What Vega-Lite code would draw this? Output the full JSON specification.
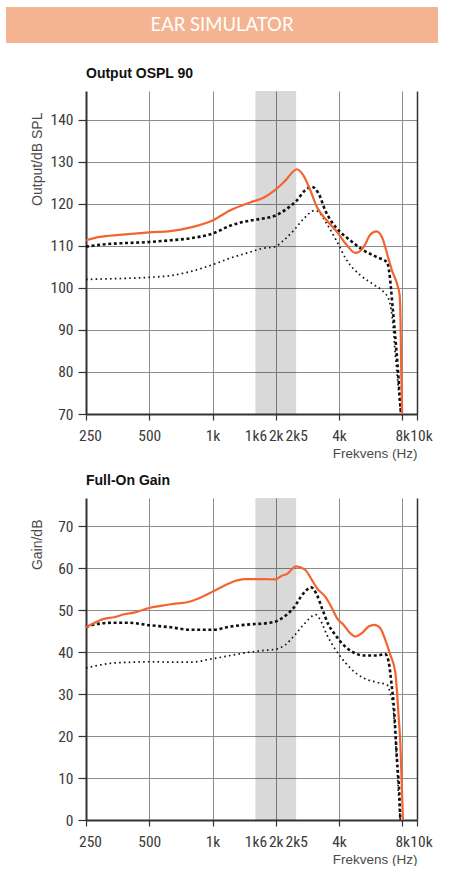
{
  "$schema": "https://vega.github.io/schema/vega-lite/v6.json",
  "padding": {"left": 6, "top": 7, "right": 0, "bottom": 0},
  "autosize": {"type": "pad"},
  "spacing": 24,
  "datasets": {
    "top": [
      {"s":"a","f":250,"v":111.3},{"s":"a","f":290,"v":112.1},{"s":"a","f":360,"v":112.6},{"s":"a","f":500,"v":113.2},{"s":"a","f":630,"v":113.5},{"s":"a","f":780,"v":114.3},{"s":"a","f":1000,"v":116.0},{"s":"a","f":1210,"v":118.4},{"s":"a","f":1510,"v":120.3},{"s":"a","f":1750,"v":121.4},{"s":"a","f":2000,"v":123.4},{"s":"a","f":2220,"v":125.5},{"s":"a","f":2520,"v":128.2},{"s":"a","f":2710,"v":126.7},{"s":"a","f":2920,"v":123.2},{"s":"a","f":3140,"v":119.2},{"s":"a","f":3500,"v":116.0},{"s":"a","f":3910,"v":113.3},{"s":"a","f":4360,"v":110.1},{"s":"a","f":4780,"v":108.3},{"s":"a","f":5240,"v":109.7},{"s":"a","f":5630,"v":112.6},{"s":"a","f":6020,"v":113.4},{"s":"a","f":6400,"v":112.1},{"s":"a","f":6880,"v":106.9},{"s":"a","f":7150,"v":104.1},{"s":"a","f":7600,"v":100.5},{"s":"a","f":7770,"v":98.2},{"s":"a","f":7850,"v":91.8},{"s":"a","f":7910,"v":80},{"s":"a","f":7990,"v":70},
      {"s":"b","f":250,"v":109.8},{"s":"b","f":300,"v":110.3},{"s":"b","f":500,"v":110.9},{"s":"b","f":630,"v":111.3},{"s":"b","f":790,"v":111.8},{"s":"b","f":1000,"v":112.9},{"s":"b","f":1220,"v":114.8},{"s":"b","f":1510,"v":116.0},{"s":"b","f":1700,"v":116.4},{"s":"b","f":2000,"v":117.2},{"s":"b","f":2260,"v":118.8},{"s":"b","f":2520,"v":120.8},{"s":"b","f":2760,"v":123.2},{"s":"b","f":2970,"v":124.0},{"s":"b","f":3200,"v":122.4},{"s":"b","f":3440,"v":118.4},{"s":"b","f":3700,"v":115.6},{"s":"b","f":4050,"v":113.3},{"s":"b","f":4520,"v":111.3},{"s":"b","f":5240,"v":108.9},{"s":"b","f":6060,"v":107.3},{"s":"b","f":6770,"v":106.1},{"s":"b","f":6900,"v":104.5},{"s":"b","f":7050,"v":100.5},{"s":"b","f":7150,"v":97},{"s":"b","f":7330,"v":91},{"s":"b","f":7490,"v":85.5},{"s":"b","f":7680,"v":78.3},{"s":"b","f":7830,"v":72},{"s":"b","f":7890,"v":70},
      {"s":"c","f":250,"v":102.0},{"s":"c","f":300,"v":102.1},{"s":"c","f":500,"v":102.5},{"s":"c","f":630,"v":102.9},{"s":"c","f":790,"v":103.9},{"s":"c","f":1000,"v":105.5},{"s":"c","f":1220,"v":107.1},{"s":"c","f":1510,"v":108.5},{"s":"c","f":1700,"v":109.3},{"s":"c","f":1990,"v":109.8},{"s":"c","f":2180,"v":111.3},{"s":"c","f":2430,"v":113.6},{"s":"c","f":2710,"v":116.4},{"s":"c","f":3080,"v":118.4},{"s":"c","f":3260,"v":117.6},{"s":"c","f":3500,"v":115.2},{"s":"c","f":3910,"v":111.0},{"s":"c","f":4360,"v":106.5},{"s":"c","f":5050,"v":103.0},{"s":"c","f":5840,"v":100.8},{"s":"c","f":6520,"v":99.0},{"s":"c","f":6880,"v":97.4},{"s":"c","f":7070,"v":95},{"s":"c","f":7230,"v":91},{"s":"c","f":7410,"v":84},{"s":"c","f":7600,"v":78.3},{"s":"c","f":7770,"v":72.8},{"s":"c","f":7850,"v":70.5}
    ],
    "bot": [
      {"s":"a","f":250,"v":45.9},{"s":"a","f":273,"v":46.9},{"s":"a","f":304,"v":47.9},{"s":"a","f":340,"v":48.3},{"s":"a","f":380,"v":49.0},{"s":"a","f":423,"v":49.4},{"s":"a","f":500,"v":50.5},{"s":"a","f":567,"v":51.0},{"s":"a","f":633,"v":51.4},{"s":"a","f":774,"v":52.0},{"s":"a","f":895,"v":53.2},{"s":"a","f":1000,"v":54.4},{"s":"a","f":1136,"v":55.8},{"s":"a","f":1291,"v":57.0},{"s":"a","f":1414,"v":57.4},{"s":"a","f":1510,"v":57.4},{"s":"a","f":1760,"v":57.4},{"s":"a","f":1985,"v":57.3},{"s":"a","f":2140,"v":58.2},{"s":"a","f":2260,"v":58.6},{"s":"a","f":2500,"v":60.4},{"s":"a","f":2760,"v":59.6},{"s":"a","f":2970,"v":57.2},{"s":"a","f":3140,"v":55.2},{"s":"a","f":3440,"v":53.2},{"s":"a","f":3700,"v":50.5},{"s":"a","f":3910,"v":48.1},{"s":"a","f":4200,"v":46.5},{"s":"a","f":4520,"v":44.5},{"s":"a","f":4780,"v":43.7},{"s":"a","f":5140,"v":44.5},{"s":"a","f":5530,"v":46.1},{"s":"a","f":5890,"v":46.5},{"s":"a","f":6290,"v":45.7},{"s":"a","f":6640,"v":42.9},{"s":"a","f":7010,"v":39.4},{"s":"a","f":7410,"v":35.2},{"s":"a","f":7680,"v":25},{"s":"a","f":7830,"v":18.4},{"s":"a","f":8060,"v":0},
      {"s":"b","f":250,"v":46.0},{"s":"b","f":283,"v":46.7},{"s":"b","f":340,"v":47.0},{"s":"b","f":393,"v":47.0},{"s":"b","f":500,"v":46.4},{"s":"b","f":633,"v":45.9},{"s":"b","f":789,"v":45.3},{"s":"b","f":1000,"v":45.3},{"s":"b","f":1222,"v":46.1},{"s":"b","f":1510,"v":46.6},{"s":"b","f":1814,"v":46.9},{"s":"b","f":2000,"v":47.3},{"s":"b","f":2217,"v":48.6},{"s":"b","f":2428,"v":50.5},{"s":"b","f":2710,"v":54.0},{"s":"b","f":2950,"v":55.4},{"s":"b","f":3140,"v":53.6},{"s":"b","f":3315,"v":50.5},{"s":"b","f":3565,"v":46.5},{"s":"b","f":3837,"v":44.1},{"s":"b","f":4200,"v":41.7},{"s":"b","f":4690,"v":39.9},{"s":"b","f":5235,"v":39.2},{"s":"b","f":6063,"v":39.2},{"s":"b","f":6640,"v":39.5},{"s":"b","f":6883,"v":37.8},{"s":"b","f":7145,"v":31.4},{"s":"b","f":7271,"v":27.9},{"s":"b","f":7548,"v":14.4},{"s":"b","f":7766,"v":4.8},{"s":"b","f":7826,"v":0},
      {"s":"c","f":250,"v":36.2},{"s":"c","f":283,"v":36.8},{"s":"c","f":340,"v":37.4},{"s":"c","f":423,"v":37.6},{"s":"c","f":500,"v":37.7},{"s":"c","f":633,"v":37.6},{"s":"c","f":789,"v":37.6},{"s":"c","f":1000,"v":38.4},{"s":"c","f":1222,"v":39.2},{"s":"c","f":1510,"v":40.0},{"s":"c","f":1761,"v":40.4},{"s":"c","f":2000,"v":40.7},{"s":"c","f":2217,"v":41.7},{"s":"c","f":2428,"v":43.7},{"s":"c","f":2710,"v":46.5},{"s":"c","f":3100,"v":48.9},{"s":"c","f":3255,"v":47.7},{"s":"c","f":3503,"v":44.1},{"s":"c","f":3766,"v":41.3},{"s":"c","f":4053,"v":39.0},{"s":"c","f":4523,"v":36.2},{"s":"c","f":5235,"v":33.8},{"s":"c","f":6063,"v":32.8},{"s":"c","f":6765,"v":32.2},{"s":"c","f":7013,"v":30.2},{"s":"c","f":7226,"v":27.0},{"s":"c","f":7409,"v":20.3},{"s":"c","f":7657,"v":7.2},{"s":"c","f":7826,"v":0}
    ],
    "band": [{"f1":1600,"f2":2500}],
    "head": [{"label":"EAR SIMULATOR"}]
  },
  "vconcat": [
    {
      "width": 432, "height": 36,
      "view": {"fill": "#F5B491", "stroke": null},
      "data": {"name": "head"},
      "mark": {"type": "text", "color": "#ffffff", "font": "Lato", "fontSize": 18.5, "baseline": "middle", "align": "center"},
      "encoding": {"text": {"field": "label"}}
    },
    {
      "spacing": 14,
      "vconcat": [
        {
          "spacing": 0,
          "hconcat": [
            {"width": 24, "height": 10, "view": {"stroke": null}, "data": {"values": []}, "mark": "text", "encoding": {}},
            {
              "width": 331, "height": 323,
              "title": {"text": "Output OSPL 90"},
              "resolve": {"axis": {"y": "independent"}},
              "layer": [
                {
                  "data": {"name": "band"},
                  "mark": {"type": "rect", "color": "#000000", "opacity": 0.15},
                  "encoding": {
                    "x": {"field": "f1", "type": "quantitative",
                      "scale": {"type": "log", "domain": [250, 9400], "nice": false},
                      "axis": {
                        "values": [250, 500, 1000, 1600, 2000, 2500, 4000, 8000, 9400],
                        "labelExpr": "datum.value < 300 ? '250' : datum.value < 600 ? '500' : datum.value < 1100 ? '1k' : datum.value < 1700 ? '1k6' : datum.value < 2100 ? '2k' : datum.value < 3000 ? '2k5' : datum.value < 5000 ? '4k' : datum.value < 9000 ? '8k' : '10k'",
                        "grid": true,
                        "gridOpacity": {"condition": {"test": "datum.value == 1600 || datum.value == 2500 || datum.value == 250 || datum.value == 9400", "value": 0}, "value": 1},
                        "tickOpacity": {"condition": {"test": "datum.value == 1600 || datum.value == 2500", "value": 0}, "value": 1},
                        "labelOffset": {"condition": {"test": "datum.value == 250 || datum.value == 9400", "value": 4}, "value": 0},
                        "labelFlush": false, "labelOverlap": false,
                        "tickSize": 6, "labelPadding": 8,
                        "title": "Frekvens (Hz)", "titleAnchor": "end", "titlePadding": 3
                      }},
                    "x2": {"field": "f2"}
                  }
                },
                {
                  "data": {"name": "top"},
                  "transform": [{"filter": "datum.s == 'c'"}],
                  "mark": {"type": "line", "color": "#111111", "strokeWidth": 1.7, "strokeDash": [1.6, 3.2], "interpolate": "monotone"},
                  "encoding": {
                    "x": {"field": "f", "type": "quantitative"},
                    "y": {"field": "v", "type": "quantitative",
                      "scale": {"domain": [70, 146.8], "nice": false, "zero": false},
                      "axis": {"values": [70, 80, 90, 100, 110, 120, 130, 140], "grid": true, "tickSize": 8, "labelPadding": 5,
                        "title": "Output/dB SPL", "titleX": -44.5, "titleY": 21, "titleAlign": "right", "titleAngle": -90, "titleBaseline": "alphabetic"}}
                  }
                },
                {
                  "data": {"name": "top"},
                  "transform": [{"filter": "datum.s == 'b'"}],
                  "mark": {"type": "line", "color": "#111111", "strokeWidth": 2.6, "strokeDash": [3, 2.6], "interpolate": "monotone"},
                  "encoding": {
                    "x": {"field": "f", "type": "quantitative"},
                    "y": {"field": "v", "type": "quantitative",
                      "axis": {"orient": "right", "labels": false, "ticks": false, "grid": false, "domainWidth": 1.5, "title": null}}
                  }
                },
                {
                  "data": {"name": "top"},
                  "transform": [{"filter": "datum.s == 'a'"}],
                  "mark": {"type": "line", "color": "#F26430", "strokeWidth": 2.2, "interpolate": "monotone"},
                  "encoding": {
                    "x": {"field": "f", "type": "quantitative"},
                    "y": {"field": "v", "type": "quantitative", "axis": null}
                  }
                }
              ]
            }
          ]
        },
        {
          "spacing": 0,
          "hconcat": [
            {"width": 24, "height": 10, "view": {"stroke": null}, "data": {"values": []}, "mark": "text", "encoding": {}},
            {
              "width": 331, "height": 322,
              "title": {"text": "Full-On Gain"},
              "resolve": {"axis": {"y": "independent"}},
              "layer": [
                {
                  "data": {"name": "band"},
                  "mark": {"type": "rect", "color": "#000000", "opacity": 0.15},
                  "encoding": {
                    "x": {"field": "f1", "type": "quantitative",
                      "scale": {"type": "log", "domain": [250, 9400], "nice": false},
                      "axis": {
                        "values": [250, 500, 1000, 1600, 2000, 2500, 4000, 8000, 9400],
                        "labelExpr": "datum.value < 300 ? '250' : datum.value < 600 ? '500' : datum.value < 1100 ? '1k' : datum.value < 1700 ? '1k6' : datum.value < 2100 ? '2k' : datum.value < 3000 ? '2k5' : datum.value < 5000 ? '4k' : datum.value < 9000 ? '8k' : '10k'",
                        "grid": true,
                        "gridOpacity": {"condition": {"test": "datum.value == 1600 || datum.value == 2500 || datum.value == 250 || datum.value == 9400", "value": 0}, "value": 1},
                        "tickOpacity": {"condition": {"test": "datum.value == 1600 || datum.value == 2500", "value": 0}, "value": 1},
                        "labelOffset": {"condition": {"test": "datum.value == 250 || datum.value == 9400", "value": 4}, "value": 0},
                        "labelFlush": false, "labelOverlap": false,
                        "tickSize": 6, "labelPadding": 8,
                        "title": "Frekvens (Hz)", "titleAnchor": "end", "titlePadding": 3
                      }},
                    "x2": {"field": "f2"}
                  }
                },
                {
                  "data": {"name": "bot"},
                  "transform": [{"filter": "datum.s == 'c'"}],
                  "mark": {"type": "line", "color": "#111111", "strokeWidth": 1.7, "strokeDash": [1.6, 3.2], "interpolate": "monotone"},
                  "encoding": {
                    "x": {"field": "f", "type": "quantitative"},
                    "y": {"field": "v", "type": "quantitative",
                      "scale": {"domain": [0, 76.7], "nice": false},
                      "axis": {"values": [0, 10, 20, 30, 40, 50, 60, 70], "grid": true, "tickSize": 8, "labelPadding": 5,
                        "title": "Gain/dB", "titleX": -44.5, "titleY": 21, "titleAlign": "right", "titleAngle": -90, "titleBaseline": "alphabetic"}}
                  }
                },
                {
                  "data": {"name": "bot"},
                  "transform": [{"filter": "datum.s == 'b'"}],
                  "mark": {"type": "line", "color": "#111111", "strokeWidth": 2.6, "strokeDash": [3, 2.6], "interpolate": "monotone"},
                  "encoding": {
                    "x": {"field": "f", "type": "quantitative"},
                    "y": {"field": "v", "type": "quantitative",
                      "axis": {"orient": "right", "labels": false, "ticks": false, "grid": false, "domainWidth": 1.5, "title": null}}
                  }
                },
                {
                  "data": {"name": "bot"},
                  "transform": [{"filter": "datum.s == 'a'"}],
                  "mark": {"type": "line", "color": "#F26430", "strokeWidth": 2.2, "interpolate": "monotone"},
                  "encoding": {
                    "x": {"field": "f", "type": "quantitative"},
                    "y": {"field": "v", "type": "quantitative", "axis": null}
                  }
                }
              ]
            }
          ]
        }
      ]
    }
  ],
  "config": {
    "view": {"stroke": null},
    "axis": {
      "labelFont": "'Liberation Sans Narrow', 'Roboto Condensed', 'DejaVu Sans Condensed', Roboto, sans-serif",
      "labelFontSize": 15.5,
      "labelColor": "#3a3a3a",
      "tickColor": "#333333",
      "tickWidth": 1.2,
      "domainColor": "#333333",
      "domainWidth": 2,
      "gridColor": "#8c8c8c",
      "gridWidth": 1,
      "titleFont": "'Liberation Sans', Arial, sans-serif",
      "titleFontWeight": "normal",
      "titleColor": "#4a4a4a",
      "titleFontSize": 14
    },
    "axisX": {"titleFontSize": 13.5},
    "title": {
      "anchor": "start",
      "frame": "group",
      "font": "'Liberation Sans', Arial, sans-serif",
      "fontSize": 14,
      "fontWeight": "bold",
      "color": "#111111",
      "baseline": "alphabetic",
      "offset": 10
    }
  }
}
